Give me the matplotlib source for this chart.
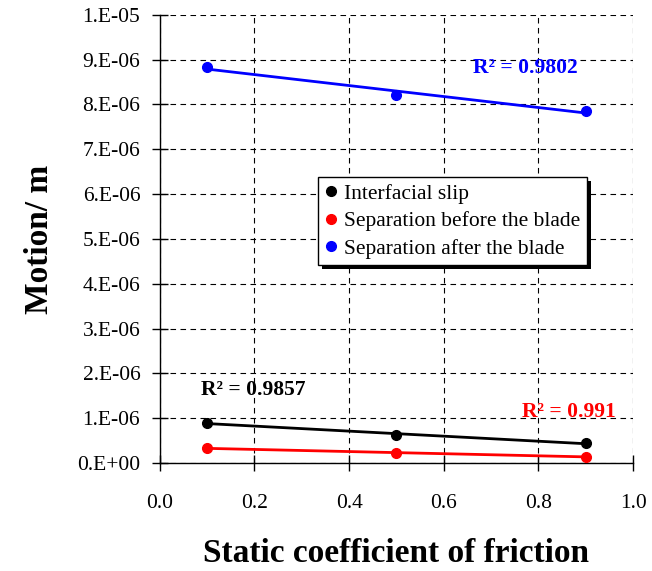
import numpy as np
import matplotlib.pyplot as plt
from matplotlib.ticker import FuncFormatter, MultipleLocator
import matplotlib.patheffects as pe

plt.rcParams['font.family'] = ['Liberation Serif', 'DejaVu Serif']

friction = [0.1, 0.5, 0.9]
slip = [0.90e-6, 0.62e-6, 0.45e-6]
sep_before = [0.33e-6, 0.23e-6, 0.14e-6]
sep_after = [8.83e-6, 8.22e-6, 7.85e-6]

series_names = ['Interfacial slip', 'Separation before the blade', 'Separation after the blade']
series_colors = ['black', 'red', 'blue']
r2_labels = ['0.9857', '0.991', '0.9802']


def sci_fmt(v, pos):
    # Excel style "1.E-05"
    if abs(v) < 1e-12:
        return '0.E+00'
    exp = int(np.floor(np.log10(abs(v)) + 1e-9))
    mant = v / 10 ** exp
    sign = '-' if exp < 0 else '+'
    return f'{mant:.0f}.E{sign}{abs(exp):02d}'


fig = plt.figure(figsize=(6.52, 5.71), dpi=100)
ax = fig.add_axes([0.245, 0.189, 0.726, 0.785])

handles = []
for ys, c in zip([slip, sep_before, sep_after], series_colors):
    x = np.array(friction)
    y = np.array(ys)
    k, b = np.polyfit(x, y, 1)
    ax.plot(x, k * x + b, color=c, lw=2.0, zorder=3)
    h, = ax.plot(x, y, 'o', color=c, ms=7, zorder=4)
    handles.append(h)

# R^2 of the linear trendlines
r2_pos = [(0.087, 1.64e-6), (0.765, 1.15e-6), (0.662, 8.82e-6)]
for (tx, ty), txt, c in zip(r2_pos, r2_labels, series_colors):
    ax.text(tx, ty, 'R² = ' + txt, color=c, fontsize=15.5, fontweight='bold', va='center')

ax.set_xlim(0, 1)
ax.set_ylim(0, 1e-5)
ax.xaxis.set_major_locator(MultipleLocator(0.2))
ax.yaxis.set_major_locator(MultipleLocator(1e-6))
ax.xaxis.set_major_formatter(FuncFormatter(lambda v, p: f'{v:.1f}'))
ax.yaxis.set_major_formatter(FuncFormatter(sci_fmt))
ax.grid(True, color='black', ls=(0, (5, 4)), lw=0.8)
ax.tick_params(direction='inout', length=12, width=1, labelsize=15.5, colors='black')
ax.tick_params(axis='x', pad=16)
ax.tick_params(axis='y', pad=8)
for side in ['top', 'right']:
    ax.spines[side].set_visible(False)
for side in ['left', 'bottom']:
    ax.spines[side].set_linewidth(1.0)

ax.set_xlabel('Static coefficient of friction', fontsize=24, fontweight='bold', labelpad=18)
ax.set_ylabel('Motion/ m', fontsize=24, fontweight='bold', labelpad=16)

leg = ax.legend(handles, series_names, loc='upper left', bbox_to_anchor=(0.335, 0.638),
                fontsize=15.5, frameon=True, fancybox=False, shadow=False, framealpha=1,
                handlelength=0.6, handletextpad=0.3, borderpad=0.3,
                labelspacing=0.35, borderaxespad=0)
frame = leg.get_frame()
frame.set_facecolor('white')
frame.set_edgecolor('black')
frame.set_linewidth(1.0)
frame.set_path_effects([pe.SimplePatchShadow(offset=(3, -3), shadow_rgbFace='black', alpha=1),
                        pe.Normal()])

fig.savefig('out.png', dpi=100)
